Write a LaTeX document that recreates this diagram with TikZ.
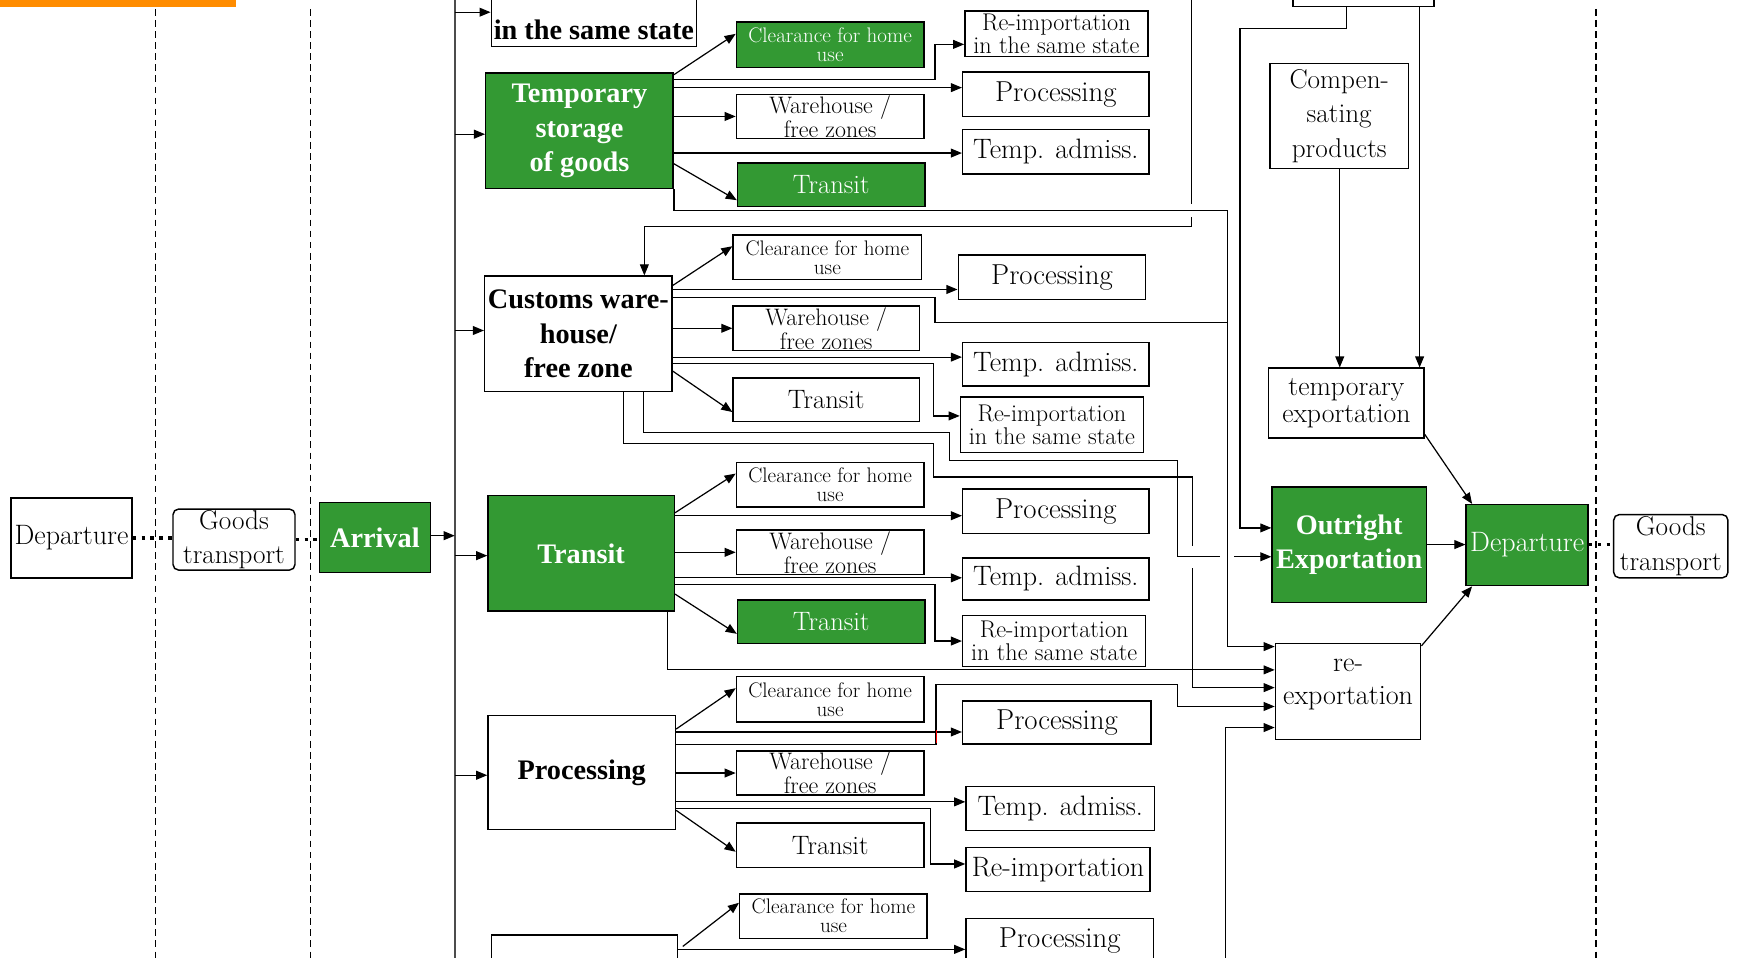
\documentclass[tikz,border=0pt]{standalone}
\usepackage{fontspec}
\newfontfamily\timesf{Liberation Serif}
\usetikzlibrary{arrows.meta}
\definecolor{gr}{RGB}{51,153,51}
\definecolor{orng}{RGB}{255,140,0}
\newcommand\mkbox[7]{%
  \pgfmathsetmacro\bw{#5-#3}\pgfmathsetmacro\bh{#6-#4}%
  \node[#1, minimum width=\bw pt, minimum height=\bh pt] (#2) at ({(#3+#5)/2},{(#4+#6)/2}) {#7};}
\begin{document}
\begin{tikzpicture}[x=1pt,y=-1pt,
  base/.style={draw=black, line width=1.3pt, inner sep=0pt, align=center},
  wbox/.style={base, fill=white},
  gbox/.style={base, fill=gr, text=white},
  rbox/.style={wbox, rounded corners=5pt},
  fb/.style={font=\timesf\bfseries\fontsize{25.5}{31}\selectfont},
  f26/.style={font=\fontsize{26}{28}\selectfont},
  f25/.style={font=\fontsize{25.3}{28}\selectfont},
  f25w/.style={font=\fontsize{24.5}{31}\selectfont},
  f25t/.style={font=\fontsize{25}{25}\selectfont},
  f25r/.style={font=\fontsize{25.3}{30}\selectfont},
  f24/.style={font=\fontsize{24}{26}\selectfont},
  fcl/.style={font=\fontsize{19}{17.2}\selectfont},
  fwh/.style={font=\fontsize{21.5}{19.5}\selectfont},
  fri/.style={font=\fontsize{21.8}{18.5}\selectfont},
  conn/.style={line width=1.1pt},
  arr/.style={conn, -{Triangle[length=10pt,width=8pt]}},
  gap/.style={white, line width=3pt},
  sep/.style={line width=1.2pt, dash pattern=on 6pt off 4pt},
  dots/.style={line width=3pt, dash pattern=on 3pt off 5pt},
  busline/.style={gray!60!black, line width=1.8pt}]
\useasboundingbox (0,0) rectangle (1568,863);
\clip (0,0) rectangle (1568,863);
\fill[white] (0,0) rectangle (1568,863);
\fill[orng] (0,0) rectangle (213,6);
\draw[sep] (140,8) -- (140,870);
\draw[sep] (280,8) -- (280,870);
\draw[sep] (1439,8) -- (1439,870);

% left part
\mkbox{wbox,f25}{depL}{10}{449}{119}{521}{Departure}
\mkbox{rbox,f25w}{gtL}{156}{459}{266}{514}{Goods\\transport}
\mkbox{gbox,fb}{arr}{288}{453}{388}{516}{Arrival}

% top (cut) box
\mkbox{wbox,fb}{top}{443}{-19}{628}{42}{\raisebox{-15.5pt}[\height][\depth]{in the same state}}

% temporary storage
\mkbox{gbox,fb}{ts}{438}{66}{607}{170}{Temporary\\storage\\of goods}
\mkbox{gbox,fcl}{ts_c}{664}{20}{833}{61}{Clearance for home\\use}
\mkbox{wbox,fri}{ts_r}{870}{10}{1035}{51}{Re-importation\\in the same state}
\mkbox{wbox,f26}{ts_p}{868}{65}{1036}{105}{Processing}
\mkbox{wbox,fwh}{ts_w}{664}{85}{833}{125}{Warehouse /\\free zones}
\mkbox{wbox,f25}{ts_t}{868}{117}{1036}{157}{Temp. admiss.}
\mkbox{gbox,f24}{ts_x}{665}{147}{834}{186}{Transit}

% customs warehouse
\mkbox{wbox,fb}{cw}{437}{249}{606}{353}{Customs ware-\\house/\\free zone}
\mkbox{wbox,fcl}{cw_c}{661}{212}{831}{252}{Clearance for home\\use}
\mkbox{wbox,f26}{cw_p}{864}{230}{1033}{270}{Processing}
\mkbox{wbox,fwh}{cw_w}{661}{276}{829}{316}{Warehouse /\\free zones}
\mkbox{wbox,f25}{cw_t}{868}{309}{1036}{348}{Temp. admiss.}
\mkbox{wbox,fri}{cw_r}{866}{358}{1031}{408}{Re-importation\\in the same state}
\mkbox{wbox,f24}{cw_x}{661}{341}{829}{380}{Transit}

% transit
\mkbox{gbox,fb}{tr}{440}{447}{608}{551}{Transit}
\mkbox{wbox,fcl}{tr_c}{664}{417}{833}{457}{Clearance for home\\use}
\mkbox{wbox,f26}{tr_p}{868}{441}{1036}{481}{Processing}
\mkbox{wbox,fwh}{tr_w}{664}{478}{833}{518}{Warehouse /\\free zones}
\mkbox{wbox,f25}{tr_t}{868}{503}{1036}{541}{Temp. admiss.}
\mkbox{wbox,fri}{tr_r}{868}{555}{1033}{601}{Re-importation\\in the same state}
\mkbox{gbox,f24}{tr_x}{665}{541}{834}{580}{Transit}

% processing
\mkbox{wbox,fb}{pr}{440}{645}{609}{748}{Processing}
\mkbox{wbox,fcl}{pr_c}{664}{610}{833}{651}{Clearance for home\\use}
\mkbox{wbox,f26}{pr_p}{868}{632}{1038}{671}{Processing}
\mkbox{wbox,fwh}{pr_w}{664}{677}{833}{717}{Warehouse /\\free zones}
\mkbox{wbox,f25}{pr_t}{871}{709}{1041}{749}{Temp. admiss.}
\mkbox{wbox,f25}{pr_r}{871}{764}{1037}{804}{Re-importation}
\mkbox{wbox,f24}{pr_x}{664}{742}{833}{782}{Transit}

% bottom (cut)
\mkbox{wbox,fb}{bt}{443}{843}{611}{930}{}
\mkbox{wbox,fcl}{bt_c}{667}{806}{836}{846}{Clearance for home\\use}
\mkbox{wbox,f26}{bt_p}{871}{828}{1040}{868}{Processing}

% right part
\mkbox{wbox}{hid}{1166}{-60}{1293}{6}{}
\mkbox{wbox,f25w}{comp}{1145}{57}{1270}{152}{Compen-\\sating\\products}
\mkbox{wbox,f25t}{tex}{1144}{332}{1284}{395}{temporary\\exportation}
\mkbox{gbox,fb}{out}{1147}{439}{1286}{543}{Outright\\Exportation}
\mkbox{gbox,f25}{depR}{1322}{455}{1432}{528}{Departure}
\mkbox{wbox,f25r}{reexp}{1150}{580}{1281}{667}{re-\\exportation\\[-12pt]\mbox{}}
\mkbox{rbox,f25w}{gtR}{1455}{464}{1558}{521}{Goods\\transport}

% coordinates
\coordinate (busT) at (410,-10);
\coordinate (busB) at (410,880);
\coordinate (b0) at (410,11);
\coordinate (b1) at (410,121);
\coordinate (b2) at (410,298);
\coordinate (b3) at (410,501);
\coordinate (b4) at (410,699);
\coordinate (bA) at (410,483);
\coordinate (topA) at (1074,-10);
\coordinate (botA) at (1105,880);

% bus and left connectors
\draw[busline] (busT) -- (busB);
\draw[dots] (depL.east) -- (gtL.west |- depL.east);
\draw[dots] (gtL.east) -- (arr.west |- gtL.east);
\draw[arr] (arr.east |- bA) -- (bA);
\draw[arr] (b0) -- (top.west |- b0);
\draw[arr] (b1) -- (ts.west |- b1);
\draw[arr] (b2) -- (cw.west |- b2);
\draw[arr] (b3) -- (tr.west |- b3);
\draw[arr] (b4) -- (pr.west |- b4);

% temporary storage connectors
\draw[arr] ([yshift=-2pt]ts.north east) -- ([yshift=10pt]ts_c.west);
\draw[arr] (ts.east |- 0,72) -| (843,40) -- (ts_r.west |- 0,40);
\draw[arr] (ts.east |- 0,79) -- (ts_p.west |- 0,79);
\draw[arr] (ts.east |- 0,105) -- (ts_w.west |- 0,105);
\draw[arr] (ts.east |- 0,138) -- (ts_t.west |- 0,138);
\draw[arr] ([yshift=23pt]ts.south east) -- ([yshift=-14pt]ts_x.west);

% customs connectors
\draw[arr] ([yshift=-9pt]cw.north east) -- ([yshift=10pt]cw_c.west);
\draw[arr] (cw.east |- 0,261) -- (cw_p.west |- 0,261);
\draw[conn] (cw.east |- 0,268) -| (843,291) -- (1107,291);
\draw[arr] (cw.east |- 0,296) -- (cw_w.west |- 0,296);
\draw[arr] (cw.east |- 0,322) -- (cw_t.west |- 0,322);
\draw[arr] (cw.east |- 0,328) -| (842,375) -- (cw_r.west |- 0,375);
\draw[arr] ([yshift=19pt]cw.south east) -- ([yshift=-11pt]cw_x.west);

% long routes
\draw[arr] (cw.south -| 562,0) |- (842,400) |- (1075,430) |- (reexp.west |- 0,620);
\draw[gap] (1075,492) -- (1075,512);
\draw[arr] (cw.south -| 580,0) |- (856,390) |- (1062,415) |- (out.west |- 0,502);
\draw[gap] (1100,502) -- (1113,502);
\draw[arr] (topA) |- (581,204) -- (cw.north -| 581,0);
\draw[gap] (1074,184) -- (1074,196);
\draw[arr] (ts.south east) |- (1107,190) |- (reexp.west |- 0,583);

% transit connectors
\draw[arr] ([yshift=-16pt]tr.north east) -- ([yshift=10pt]tr_c.west);
\draw[arr] (tr.east |- 0,465) -- (tr_p.west |- 0,465);
\draw[arr] (tr.east |- 0,498) -- (tr_w.west |- 0,498);
\draw[arr] (tr.east |- 0,521) -- (tr_t.west |- 0,521);
\draw[arr] (tr.east |- 0,527) -| (843,578) -- (tr_r.west |- 0,578);
\draw[arr] ([yshift=16pt]tr.south east) -- ([yshift=-11pt]tr_x.west);
\draw[arr] (tr.south -| 602,0) |- (reexp.west |- 0,604);

% processing connectors
\draw[arr] ([yshift=-13pt]pr.north east) -- ([yshift=10pt]pr_c.west);
\draw[arr] (pr.east |- 0,660) -- (pr_p.west |- 0,660);
\draw[arr] (pr.east |- 0,671) -| (844,617) -| (1062,637) -- (reexp.west |- 0,637);
\draw[red, line width=1pt] (844,658) -- (844,670);
\draw[arr] (pr.east |- 0,697) -- (pr_w.west |- 0,697);
\draw[arr] (pr.east |- 0,723) -- (pr_t.west |- 0,723);
\draw[arr] (pr.east |- 0,729) -| (839,779) -- (pr_r.west |- 0,779);
\draw[arr] ([yshift=18pt]pr.south east) -- ([yshift=-6pt]pr_x.west);

% bottom connectors
\draw[arr] ([xshift=4pt,yshift=-11pt]bt.north east) -- ([yshift=12pt]bt_c.west);
\draw[arr] (bt.east |- 0,856) -- (bt_p.west |- 0,856);
\draw[arr] (botA) |- (reexp.west |- 0,656);

% right connectors
\draw[arr] (hid.south -| 1214,0) |- (1118,26) |- (out.west |- 0,476);
\draw[arr] (hid.south -| 1280,0) -- (tex.north -| 1280,0);
\draw[arr] (comp.south -| 1208,0) -- (tex.north -| 1208,0);
\draw[arr] ([yshift=4pt]tex.south east) -- ([xshift=6pt]depR.north west);
\draw[arr] (out.east |- 0,491) -- (depR.west |- 0,491);
\draw[arr] ([yshift=-3pt]reexp.north east) -- ([xshift=6pt]depR.south west);
\draw[dots] (depR.east |- 0,491) -- (gtR.west |- 0,491);
\end{tikzpicture}
\end{document}
